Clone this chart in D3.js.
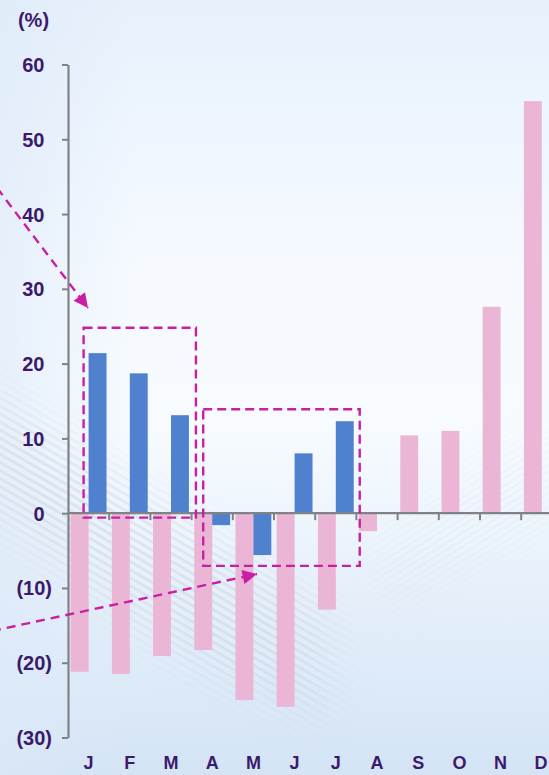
<!DOCTYPE html>
<html>
<head>
<meta charset="utf-8">
<script src="https://cdn.jsdelivr.net/npm/d3@7"></script>
<style>
html,body{margin:0;padding:0;overflow:hidden;}
svg{display:block;}
</style>
</head>
<body>
<svg id="chart" width="549" height="775"></svg>
<script>
// ---- data ----
const monthKeys = ["Jan","Feb","Mar","Apr","May","Jun","Jul","Aug","Sep","Oct","Nov","Dec"];
const monthLabels = ["J","F","M","A","M","J","J","A","S","O","N","D"];
const seriesNames = ["prior","current"];
const priorValues = [-21.2, -21.5, -19.1, -18.3, -25.0, -25.9, -12.9, -2.4, 10.4, 11.0, 27.6, 55.1];
const currentValues = [21.4, 18.7, 13.1, -1.6, -5.6, 8.0, 12.3, null, null, null, null, null];
const yTicks = [-30, -20, -10, 0, 10, 20, 30, 40, 50, 60];
const unitLabel = "(%)";

const colors = {prior: "#ebb5d5", current: "#4f81cf"};
const textColor = "#3b1a6b";
const axisColor = "#7f8386";
const annoColor = "#c81fa3";

const W = 549, H = 775;
const svg = d3.select("#chart");
const defs = svg.append("defs");

// ---- background ----
const bg = defs.append("linearGradient").attr("id","bg").attr("x1",0).attr("y1",0).attr("x2",0).attr("y2",1);
[[0,"#e7f1fc"],[0.35,"#f6faff"],[0.55,"#f7fbff"],[0.8,"#e3eefa"],[1,"#d4e4f5"]].forEach(([o,c])=>bg.append("stop").attr("offset",o).attr("stop-color",c));
svg.append("rect").attr("width",W).attr("height",H).attr("fill","url(#bg)");
const bgL = defs.append("linearGradient").attr("id","bgL").attr("x1",0).attr("y1",0).attr("x2",1).attr("y2",0);
bgL.append("stop").attr("offset",0).attr("stop-color","#dce9f8").attr("stop-opacity",0.6);
bgL.append("stop").attr("offset",0.25).attr("stop-color","#dce9f8").attr("stop-opacity",0);
svg.append("rect").attr("width",W).attr("height",H).attr("fill","url(#bgL)");

// stripe texture
const pat = defs.append("pattern").attr("id","stripes").attr("patternUnits","userSpaceOnUse")
  .attr("width",7).attr("height",7).attr("patternTransform","rotate(30)");
pat.append("rect").attr("width",7).attr("height",2.6).attr("fill","#b9c6d3");
const pat2 = defs.append("pattern").attr("id","stripes2").attr("patternUnits","userSpaceOnUse")
  .attr("width",6).attr("height",6).attr("patternTransform","rotate(-32)");
pat2.append("rect").attr("width",6).attr("height",1.6).attr("fill","#c3cfdb");
const blur = defs.append("filter").attr("id","blur").attr("x","-50%").attr("y","-50%").attr("width","200%").attr("height","200%");
blur.append("feGaussianBlur").attr("stdDeviation",22);
const m1 = defs.append("mask").attr("id","m1");
m1.append("path").attr("d","M-20,380 L60,440 L200,530 L330,610 L330,720 L200,670 L80,580 L-20,500 Z")
  .attr("fill","#fff").attr("filter","url(#blur)").attr("opacity",0.7);
const m2 = defs.append("mask").attr("id","m2");
m2.append("path").attr("d","M360,560 L470,470 L560,420 L560,520 L470,570 L390,620 Z")
  .attr("fill","#fff").attr("filter","url(#blur)").attr("opacity",0.45);
svg.append("rect").attr("width",W).attr("height",H).attr("fill","url(#stripes)").attr("mask","url(#m1)").attr("opacity",0.5);
svg.append("rect").attr("width",W).attr("height",H).attr("fill","url(#stripes2)").attr("mask","url(#m2)").attr("opacity",0.4);

// ---- scales ----
const y = d3.scaleLinear().domain([-30, 60]).range([737.5, 64.5]);
const x0 = d3.scaleBand().domain(monthKeys).range([68, 68 + 12*41.2]).paddingInner(0.13).paddingOuter(0.065);
const x1 = d3.scaleBand().domain(seriesNames).range([0, x0.bandwidth()]).padding(0);
const step = x0.step();
const gapHalf = (step - x0.bandwidth())/2;

const font = "'Liberation Sans', Arial, Helvetica, sans-serif";
const fs = 20;

// ---- bars ----
const rows = monthKeys.map((k,i)=>({key:k, prior:priorValues[i], current:currentValues[i]}));
const g = svg.append("g");
seriesNames.forEach(s=>{
  g.selectAll(".bar-"+s).data(rows.filter(d=>d[s]!==null)).enter().append("rect")
    .attr("x", d=>x0(d.key)+x1(s))
    .attr("width", x1.bandwidth())
    .attr("y", d=>y(Math.max(0,d[s])))
    .attr("height", d=>Math.abs(y(d[s])-y(0)))
    .attr("fill", colors[s]);
});

// ---- y axis ----
const yAxis = d3.axisLeft(y).tickValues(yTicks).tickSize(6).tickSizeOuter(0)
  .tickFormat(v => v < 0 ? "(" + Math.abs(v) + ")" : String(v));
const ya = svg.append("g").attr("transform","translate(68,0)").call(yAxis);
ya.select(".domain").attr("stroke",axisColor).attr("stroke-width",2.2);
ya.selectAll(".tick line").attr("stroke",axisColor).attr("stroke-width",2);
ya.selectAll(".tick text")
  .attr("x", v => v < 0 ? -16 : -23.5)
  .attr("dy","0.35em")
  .attr("fill",textColor).attr("font-family",font).attr("font-weight","bold").attr("font-size",fs);

svg.append("text").attr("x",33.5).attr("y",27).attr("text-anchor","middle")
  .attr("fill",textColor).attr("font-family",font).attr("font-weight","bold").attr("font-size",fs)
  .text(unitLabel);

// ---- x axis (zero line) ----
svg.append("line").attr("x1",68).attr("x2",W+5).attr("y1",y(0)).attr("y2",y(0))
  .attr("stroke",axisColor).attr("stroke-width",2.2);
svg.append("g").selectAll("line").data(monthKeys).enter().append("line")
  .attr("x1", d=>x0(d)+x0.bandwidth()+gapHalf)
  .attr("x2", d=>x0(d)+x0.bandwidth()+gapHalf)
  .attr("y1", y(0)).attr("y2", y(0)+7)
  .attr("stroke",axisColor).attr("stroke-width",2);
svg.append("g").selectAll("text").data(monthKeys).enter().append("text")
  .attr("x", (d,i)=> Math.min(x0(d)+x0.bandwidth()/2, W-8))
  .attr("y", 769)
  .attr("text-anchor","middle")
  .attr("fill",textColor).attr("font-family",font).attr("font-weight","bold").attr("font-size",18)
  .text((d,i)=>monthLabels[i]);

// ---- annotations ----
const anno = svg.append("g").attr("fill","none").attr("stroke",annoColor).attr("stroke-width",2.4).attr("stroke-dasharray","9,5");
anno.append("rect")
  .attr("x", x0("Jan")+x1("current")-5)
  .attr("y", y(24.8))
  .attr("width", (x0("Mar")+x0.bandwidth()+7) - (x0("Jan")+x1("current")-5))
  .attr("height", y(-0.6)-y(24.8));
anno.append("rect")
  .attr("x", x0("Apr")+x1("current")-9)
  .attr("y", y(13.9))
  .attr("width", (x0("Jul")+x0.bandwidth()+6) - (x0("Apr")+x1("current")-9))
  .attr("height", y(-7.05)-y(13.9));

const mk = defs.append("marker").attr("id","ah").attr("viewBox","0 0 10 10")
  .attr("refX",10).attr("refY",5).attr("markerWidth",7).attr("markerHeight",6)
  .attr("markerUnits","strokeWidth").attr("orient","auto");
mk.append("path").attr("d","M0,0 L10,5 L0,10 Z").attr("fill",annoColor);

const arrows = [
  {x1:-12, y1:176, x2:88, y2:308},
  {x1:-8, y1:631, x2:257, y2:574}
];
svg.append("g").selectAll("line").data(arrows).enter().append("line")
  .attr("x1",d=>d.x1).attr("y1",d=>d.y1).attr("x2",d=>d.x2).attr("y2",d=>d.y2)
  .attr("stroke",annoColor).attr("stroke-width",2.4).attr("stroke-dasharray","9,6")
  .attr("marker-end","url(#ah)");
</script>
</body>
</html>
